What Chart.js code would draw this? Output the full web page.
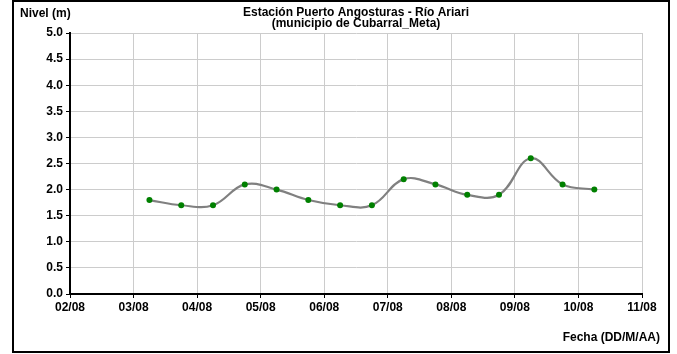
<!DOCTYPE html>
<html>
<head>
<meta charset="utf-8">
<script src="https://cdn.jsdelivr.net/npm/chart.js@4"></script>
<style>
  body { margin: 0; background: #fff; }
  canvas { display: block; }
</style>
</head>
<body>
<canvas id="grafico" width="677" height="354"></canvas>
<script>
// lecturas cada 12 horas (dia de agosto + fraccion del dia)
const dias = [3.25, 3.75, 4.25, 4.75, 5.25, 5.75, 6.25, 6.75, 7.25, 7.75, 8.25, 8.75, 9.25, 9.75, 10.25];
const niveles = [1.8, 1.7, 1.7, 2.1, 2.0, 1.8, 1.7, 1.7, 2.2, 2.1, 1.9, 1.9, 2.6, 2.1, 2.0];
const tituloLineas = ['Estación Puerto Angosturas - Río Ariari', '(municipio de Cubarral_Meta)'];
const tituloY = 'Nivel (m)';
const tituloX = 'Fecha (DD/M/AA)';

const fuente = 'Liberation Sans, Arial, sans-serif';

const textos = {
    id: 'textos',
    afterDraw(chart) {
        const ctx = chart.ctx;
        const area = chart.chartArea;
        ctx.save();
        // marco exterior
        ctx.strokeStyle = '#000';
        ctx.lineWidth = 2;
        ctx.strokeRect(13, 1, 656, 351);

        ctx.fillStyle = '#000';
        ctx.font = 'bold 12px ' + fuente;
        ctx.textBaseline = 'alphabetic';
        ctx.textAlign = 'center';
        const cx = (area.left + area.right) / 2;
        ctx.fillText(tituloLineas[0], cx, 16);
        ctx.fillText(tituloLineas[1], cx, 27);

        ctx.textAlign = 'left';
        ctx.fillText(tituloY, 20, 17);

        ctx.textAlign = 'right';
        ctx.fillText(tituloX, 660, 341);
        ctx.restore();
    }
};

const puntos = dias.map((d, i) => ({ x: d, y: niveles[i] }));

new Chart(document.getElementById('grafico').getContext('2d'), {
    type: 'line',
    data: {
        datasets: [{
            label: 'Nivel',
            data: puntos,
            borderColor: '#808080',
            borderWidth: 2.2,
            tension: 0.4,
            pointRadius: 3,
            pointBackgroundColor: '#008000',
            pointBorderColor: '#008000',
            pointBorderWidth: 0
        }]
    },
    options: {
        responsive: false,
        animation: false,
        devicePixelRatio: 1,
        layout: { padding: { left: 14, top: 33, right: 35, bottom: 0 } },
        plugins: {
            legend: { display: false },
            title: { display: false },
            tooltip: { enabled: false }
        },
        scales: {
            x: {
                type: 'linear',
                min: 2,
                max: 11,
                afterFit: s => { s.height = 60; },
                ticks: {
                    stepSize: 1,
                    padding: 2,
                    color: '#000',
                    font: { family: fuente, size: 12, weight: 'bold' },
                    callback: v => String(v).padStart(2, '0') + '/08'
                },
                grid: { color: '#cccccc', lineWidth: 1, tickLength: 4, tickColor: '#000' },
                border: { color: '#000', width: 2 }
            },
            y: {
                min: 0,
                max: 5,
                afterFit: s => { s.width = 56; },
                ticks: {
                    stepSize: 0.5,
                    padding: 3,
                    color: '#000',
                    font: { family: fuente, size: 12, weight: 'bold' },
                    callback: v => v.toFixed(1)
                },
                grid: { color: '#cccccc', lineWidth: 1, tickLength: 4, tickColor: '#000' },
                border: { color: '#000', width: 2 }
            }
        }
    },
    plugins: [textos]
});
</script>
</body>
</html>
